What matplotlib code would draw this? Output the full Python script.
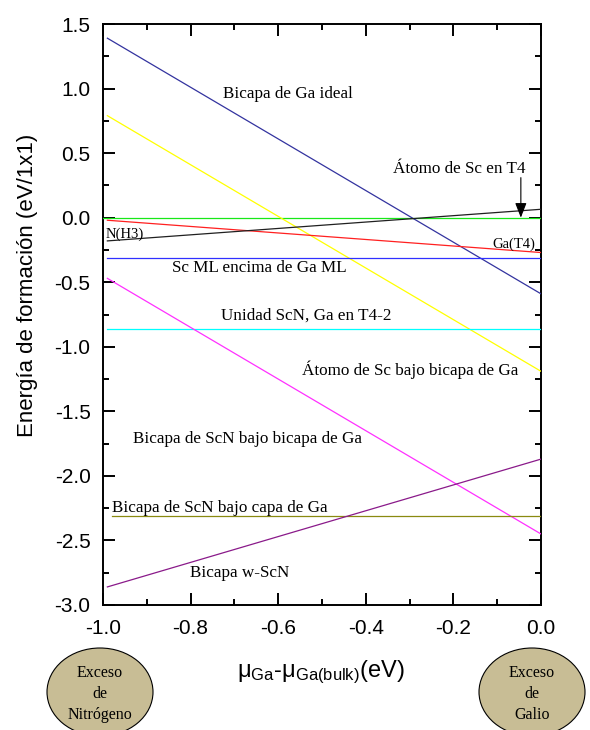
import matplotlib
matplotlib.use("Agg")
import matplotlib.pyplot as plt
from matplotlib.patches import Ellipse
from matplotlib.ticker import MultipleLocator, FuncFormatter

# Chemical potential endpoints (eV)
mu_ga = [-0.99, 0.0]
mu_ga_full = [-1.0, 0.0]
mu_ga_short = [-0.98, 0.0]

# Formation energies (eV/1x1) at the two endpoints
e_ga_bilayer_ideal = [1.39, -0.59]
e_sc_under_ga_bilayer = [0.79, -1.19]
e_sc_t4 = [0.0, 0.0]
e_ga_t4 = [-0.02, -0.27]
e_n_h3 = [-0.18, 0.065]
e_sc_ml_on_ga_ml = [-0.31, -0.31]
e_scn_unit_ga_t4_2 = [-0.86, -0.86]
e_scn_bilayer_under_ga_bilayer = [-0.47, -2.45]
e_scn_bilayer_under_ga_layer = [-2.31, -2.31]
e_w_scn_bilayer = [-2.86, -1.87]

series = [
    (mu_ga_full, e_sc_t4, "#18e818"),
    (mu_ga, e_ga_bilayer_ideal, "#33339f"),
    (mu_ga, e_sc_under_ga_bilayer, "#ffff00"),
    (mu_ga, e_ga_t4, "#ff2020"),
    (mu_ga, e_n_h3, "#202020"),
    (mu_ga, e_sc_ml_on_ga_ml, "#3030ff"),
    (mu_ga, e_scn_unit_ga_t4_2, "#00ffff"),
    (mu_ga, e_scn_bilayer_under_ga_bilayer, "#ff30ff"),
    (mu_ga_short, e_scn_bilayer_under_ga_layer, "#8a8a10"),
    (mu_ga, e_w_scn_bilayer, "#8a1a8a"),
]

labels = [
    ("Bicapa de Ga ideal", -0.726, 0.96, 12.3),
    ("Átomo de Sc en T4", -0.338, 0.378, 12.3),
    ("N(H3)", -0.995, -0.126, 10.5),
    ("Ga(T4)", -0.110, -0.204, 10.5),
    ("Sc ML encima de Ga ML", -0.842, -0.389, 12.3),
    ("Unidad ScN, Ga en T4-2", -0.731, -0.762, 12.3),
    ("Átomo de Sc bajo bicapa de Ga", -0.546, -1.18, 12.3),
    ("Bicapa de ScN bajo bicapa de Ga", -0.932, -1.715, 12.3),
    ("Bicapa de ScN bajo capa de Ga", -0.980, -2.248, 12.3),
    ("Bicapa w-ScN", -0.801, -2.752, 12.3),
]

SANS = "Liberation Sans"
SERIF = "Liberation Serif"
plt.rcParams["font.family"] = SANS
plt.rcParams["mathtext.default"] = "regular"

fig = plt.figure(figsize=(5.9, 7.3), dpi=100)
ax = fig.add_axes([103 / 590, 1 - 605 / 730, 438 / 590, 581 / 730])

for xs, ys, col in series:
    ax.plot(xs, ys, color=col, lw=0.9, zorder=3)

for text, x, y, fs in labels:
    ax.text(x, y, text, ha="left", va="center", fontsize=fs, family=SERIF, zorder=4)

ax.annotate("", xy=(-0.046, 0.0), xytext=(-0.046, 0.31),
            arrowprops=dict(arrowstyle="-|>,head_length=0.9,head_width=0.35",
                            lw=0.8, color="black", shrinkA=0, shrinkB=0),
            zorder=5)

ax.set_xlim(-1.0, 0.0)
ax.set_ylim(-3.0, 1.5)
ax.xaxis.set_major_locator(MultipleLocator(0.2))
ax.xaxis.set_minor_locator(MultipleLocator(0.1))
ax.yaxis.set_major_locator(MultipleLocator(0.5))
ax.yaxis.set_minor_locator(MultipleLocator(0.25))
fmt = FuncFormatter(lambda v, p: f"{round(v, 1) + 0.0:.1f}")
ax.xaxis.set_major_formatter(fmt)
ax.yaxis.set_major_formatter(fmt)

ax.tick_params(which="both", direction="in", top=True, right=True, width=1.4)
ax.tick_params(which="major", length=8.6)
ax.tick_params(which="minor", length=4.3)
ax.tick_params(axis="x", which="major", labelsize=15, pad=10)
ax.tick_params(axis="y", which="major", labelsize=15, pad=9)
for sp in ax.spines.values():
    sp.set_linewidth(1.4)

fig.text(27.5 / 590, 1 - 285 / 730, "Energía de formación (eV/1x1)",
         rotation=90, ha="center", va="center", fontsize=16, family=SANS)
fig.text(321 / 590, 1 - 672 / 730, r"μ$_{Ga}$-μ$_{Ga(bulk)}$(eV)",
         ha="center", va="center", fontsize=17, family=SANS)

# Regime badges below the axis
for cx, lines in [(100, ["Exceso", "de", "Nitrógeno"]), (532, ["Exceso", "de", "Galio"])]:
    e = Ellipse((cx / 100, (730 - 692) / 100), 1.06, 0.88,
                transform=fig.dpi_scale_trans, facecolor="#c8bd95",
                edgecolor="black", lw=0.8)
    fig.patches.append(e)
    for i, t in enumerate(lines):
        fig.text(cx / 590, 1 - (673 + 21 * i) / 730, t, ha="center", va="center",
                 fontsize=11.5, family=SERIF)

fig.savefig("out.png", dpi=100)
